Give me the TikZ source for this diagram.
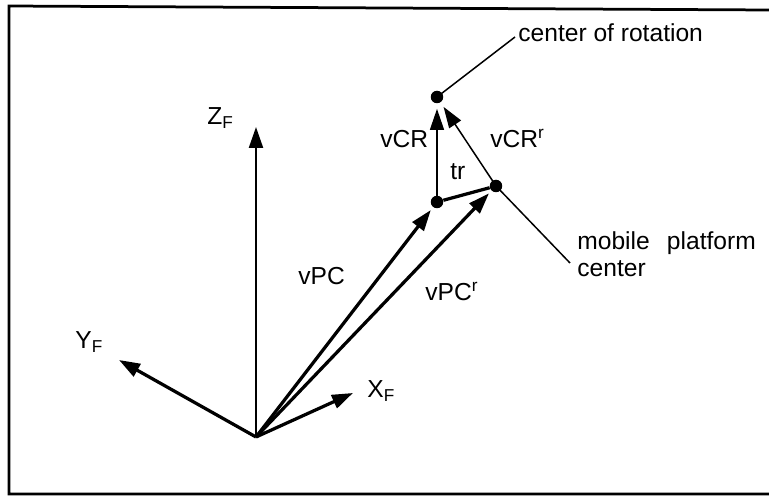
\documentclass[tikz,border=0pt]{standalone}
\usepackage{fontspec}
\setmainfont{Liberation Sans}
\usetikzlibrary{arrows.meta}
\tikzset{
  vec/.style={line width=0.065cm},
  thinvec/.style={line width=0.03cm},
  lbl/.style={anchor=base west,inner sep=0pt,font=\fontsize{14}{16}\selectfont},
  dot/.style={circle,fill,inner sep=0pt,minimum size=0.25cm}
}
\begin{document}
\begin{tikzpicture}[x=0.02cm,y=-0.02cm,
	>={Triangle[length=0.42cm,width=0.28cm]}]
	\useasboundingbox (0,0) rectangle (769,500);
	\draw[line width=0.055cm] (769,10)--(9,6)--(9,494)--(769,494);
	\coordinate (O) at (256,437);
	\coordinate (Z) at (256,127);
	\coordinate (Y) at (119,360);
	\coordinate (X) at (353,393);
	\node[dot] (P1) at (437,202) {};
	\node[dot] (P2) at (496,186) {};
	\node[dot] (C) at (437,97) {};
	\coordinate (cr) at (515,37);
	\coordinate (mp) at (570,263);
	\draw[->,line width=0.045cm] (O)--(Z);
	\draw[->,vec] (O)--(Y);
	\draw[->,vec] (O)--(X);
	\draw[->,vec,shorten >=2] (O)--(P1);
	\draw[->,vec,shorten >=2] (O)--(P2);
	\draw[vec] (P1)--(P2);
	\draw[->,thinvec,shorten >=3] (P1.center)--(C);
	\draw[->,thinvec,shorten >=3] (P2.center)--(C);
	\draw[thinvec] (C.center)--(cr);
	\draw[thinvec] (P2.center)--(mp);
	\node[lbl] (zf) at (207,125) {Z\textsubscript{F}};
	\node[lbl] (yf) at (75,349) {Y\textsubscript{F}};
	\node[lbl] (xf) at (367,398) {X\textsubscript{F}};
	\node[lbl] (vpc) at (298,285) {vPC};
	\node[lbl] (vpcr) at (425,301) {vPC\textsuperscript{r}};
	\node[lbl] (vcr) at (380,148) {vCR};
	\node[lbl] (vcrr) at (490,148) {vCR\textsuperscript{r}};
	\node[lbl] (tr) at (450,180) {tr};
	\node[lbl] (rot) at (518,42) {center of rotation};
	\node[lbl] (mob) at (577,250) {mobile\hspace{0.7em}platform};
	\node[lbl] (cen) at (577,277) {center};
\end{tikzpicture}
\end{document}
